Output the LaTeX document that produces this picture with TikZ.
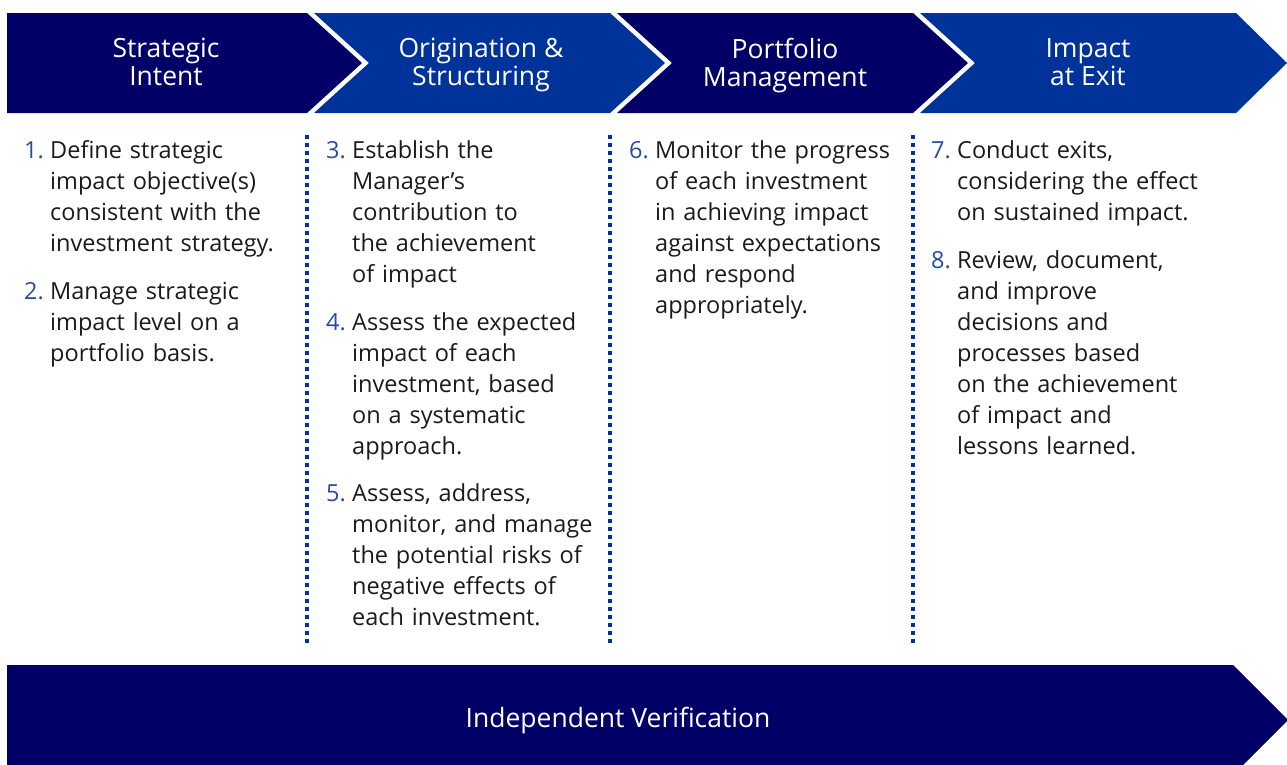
\documentclass[tikz,border=0pt]{standalone}
\usepackage{fontspec}
\setmainfont{Open Sans}
\usetikzlibrary{positioning}

\definecolor{navy}{RGB}{0,0,102}
\definecolor{royal}{RGB}{0,51,153}
\definecolor{numblue}{RGB}{38,76,160}
\definecolor{bodytext}{RGB}{26,26,26}

\tikzstyle{head} = [text=white, align=center, inner sep=0pt, font=\fontsize{26.5}{27}\selectfont]
\tikzstyle{item} = [text=bodytext, text width=300pt, align=left, inner sep=0pt, font=\fontsize{23.5}{31}\selectfont]
\tikzstyle{num} = [text=numblue, inner sep=0pt, font=\fontsize{23.5}{31}\selectfont]
\tikzstyle{sep} = [royal, line width=3.5pt, dash pattern=on 3.5pt off 4.5pt]

\begin{document}
\begin{tikzpicture}[x=1pt, y=-1pt]
        \tikzset{node distance = 16pt and 6pt}
        \useasboundingbox (0,0) rectangle (1287,764);
        % Chevrons along the top
        \fill[navy] (7,13) -- (307,13) -- (362,63) -- (307,113) -- (7,113) -- cycle;
        \fill[royal] (314,13) -- (610,13) -- (665,63) -- (610,113) -- (314,113) -- (369,63) -- cycle;
        \fill[navy] (617,13) -- (913,13) -- (968,63) -- (913,113) -- (617,113) -- (672,63) -- cycle;
        \fill[royal] (920,13) -- (1236,13) -- (1287,63) -- (1236,113) -- (920,113) -- (975,63) -- cycle;
        \node (h1) at (166,66) [head] {Strategic\strut\\Intent\strut};
        \node (h2) at (481,66) [head] {Origination \&\strut\\Structuring\strut};
        \node (h3) at (785,66) [head] {Portfolio\strut\\Management\strut};
        \node (h4) at (1088,66) [head] {Impact\strut\\at Exit\strut};
        % Dotted separators
        \draw[sep] (307,135) -- (307,646);
        \draw[sep] (610,135) -- (610,646);
        \draw[sep] (913,135) -- (913,646);
        % Column 1
        \node (t1) at (50,137) [item, anchor=north west] {Define strategic\strut\\impact objective(s)\\consistent with the\\investment strategy.\strut};
        \node (t2) [item, below=of t1] {Manage strategic\strut\\impact level on a\\portfolio basis.\strut};
        % Column 2
        \node (t3) at (352,137) [item, anchor=north west] {Establish the\strut\\Manager’s\\contribution to\\the achievement\\of impact\strut};
        \node (t4) [item, below=of t3] {Assess the expected\strut\\impact of each\\investment, based\\on a systematic\\approach.\strut};
        \node (t5) [item, below=of t4] {Assess, address,\strut\\monitor, and manage\\the potential risks of\\negative effects of\\each investment.\strut};
        % Column 3
        \node (t6) at (655,137) [item, anchor=north west] {Monitor the progress\strut\\of each investment\\in achieving impact\\against expectations\\and respond\\appropriately.\strut};
        % Column 4
        \node (t7) at (957,137) [item, anchor=north west] {Conduct exits,\strut\\considering the effect\\on sustained impact.\strut};
        \node (t8) [item, below=of t7] {Review, document,\strut\\and improve\\decisions and\\processes based\\on the achievement\\of impact and\\lessons learned.\strut};
        % Numbers
        \node (n1) [num, left=of t1.north west, anchor=north east] {1.\strut};
        \node (n2) [num, left=of t2.north west, anchor=north east] {2.\strut};
        \node (n3) [num, left=of t3.north west, anchor=north east] {3.\strut};
        \node (n4) [num, left=of t4.north west, anchor=north east] {4.\strut};
        \node (n5) [num, left=of t5.north west, anchor=north east] {5.\strut};
        \node (n6) [num, left=of t6.north west, anchor=north east] {6.\strut};
        \node (n7) [num, left=of t7.north west, anchor=north east] {7.\strut};
        \node (n8) [num, left=of t8.north west, anchor=north east] {8.\strut};
        % Bottom bar
        \fill[navy] (7,665) -- (1233,665) -- (1288,720) -- (1233,775) -- (7,775) -- cycle;
        \node (v) at (618,721) [head] {Independent Verification};
\end{tikzpicture}
\end{document}
